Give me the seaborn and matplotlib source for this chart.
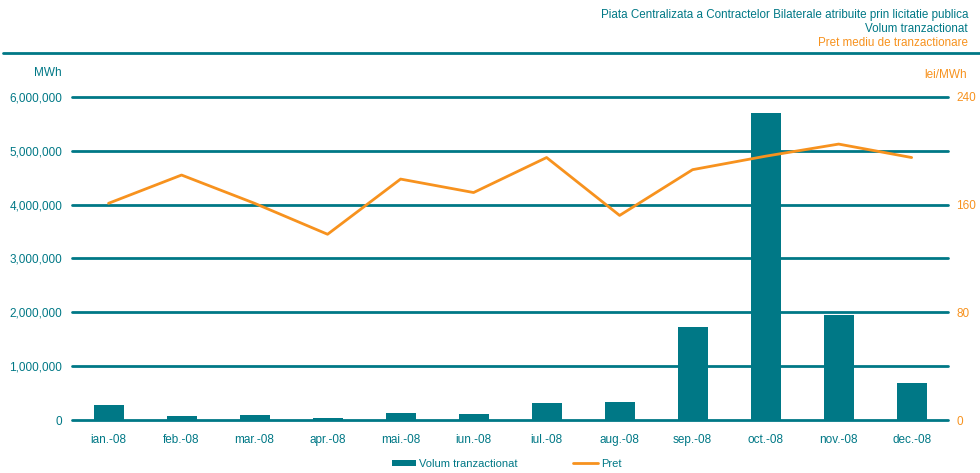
import numpy as np
import pandas as pd
import matplotlib
matplotlib.use("Agg")
import matplotlib.pyplot as plt
import seaborn as sns

# Data
months = ["ian.-08", "feb.-08", "mar.-08", "apr.-08", "mai.-08", "iun.-08",
          "iul.-08", "aug.-08", "sep.-08", "oct.-08", "nov.-08", "dec.-08"]
volume = [270000, 70000, 90000, 35000, 130000, 110000,
          310000, 330000, 1730000, 5700000, 1950000, 690000]
price = [161, 182, 161, 138, 179, 169, 195, 152, 186, 196, 205, 195]

title_lines = ["Piata Centralizata a Contractelor Bilaterale atribuite prin licitatie publica",
               "Volum tranzactionat",
               "Pret mediu de tranzactionare"]

TEAL = "#007886"
ORANGE = "#F7921E"

sns.set_style("white")
plt.rcParams["font.family"] = ["Liberation Sans", "DejaVu Sans"]

df = pd.DataFrame({"luna": months, "volum": volume, "pret": price})

fig = plt.figure(figsize=(9.8, 4.73), dpi=100)
ax = fig.add_axes([0.0735, 0.112, 0.894, 0.683])

# Bars
sns.barplot(data=df, x="luna", y="volum", color=TEAL, width=0.41,
            saturation=1, linewidth=0, ax=ax, label="Volum tranzactionat", zorder=2)
ax.set_ylim(0, 6000000)
ax.set_xlim(-0.5, 11.5)
ax.set_yticks(np.arange(0, 6000001, 1000000))
ax.yaxis.set_major_formatter(matplotlib.ticker.FuncFormatter(lambda v, p: f"{int(v):,}"))
ax.grid(axis="y", color=TEAL, linewidth=2)
for gl in ax.get_ygridlines():
    gl.set_clip_on(False)
ax.set_axisbelow(True)
ax.set_xlabel("")
ax.set_ylabel("")
ax.tick_params(axis="both", length=0, labelsize=8.5, labelcolor=TEAL)
ax.tick_params(axis="y", pad=7)
ax.tick_params(axis="x", pad=10)
for s in ax.spines.values():
    s.set_visible(False)

# Price line
ax2 = ax.twinx()
sns.lineplot(data=df, x="luna", y="pret", color=ORANGE, linewidth=2,
             sort=False, ax=ax2, label="Pret")
ax2.set_ylim(0, 240)
ax2.set_yticks([0, 80, 160, 240])
ax2.set_ylabel("")
ax2.tick_params(axis="y", length=0, labelsize=8.5, labelcolor=ORANGE, pad=6)
for s in ax2.spines.values():
    s.set_visible(False)
ax2.get_legend().remove()
if ax.get_legend():
    ax.get_legend().remove()

# Unit labels
fig.text(62 / 980, 1 - 73 / 473, "MWh", color=TEAL, fontsize=8.5, ha="right", va="center")
fig.text(967 / 980, 1 - 75 / 473, "lei/MWh", color=ORANGE, fontsize=8.5, ha="right", va="center")

# Header text and rule
fig.text(968 / 980, 1 - 15 / 473, title_lines[0], color=TEAL, fontsize=8.4, ha="right", va="center")
fig.text(968 / 980, 1 - 29 / 473, title_lines[1], color=TEAL, fontsize=8.4, ha="right", va="center")
fig.text(968 / 980, 1 - 43 / 473, title_lines[2], color=ORANGE, fontsize=8.4, ha="right", va="center")
fig.add_artist(matplotlib.lines.Line2D([3 / 980, 1], [1 - 53 / 473] * 2, color=TEAL, linewidth=2))

# Legend
h1, l1 = ax.get_legend_handles_labels()
h2, l2 = ax2.get_legend_handles_labels()
fig.legend(h1 + h2, l1 + l2, loc="center", bbox_to_anchor=(0.517, 1 - 464 / 473),
           ncol=2, frameon=False, fontsize=8, labelcolor=TEAL, columnspacing=5,
           handlelength=2.2, handleheight=0.5, handletextpad=0.3)

fig.savefig("out.png", dpi=100)
